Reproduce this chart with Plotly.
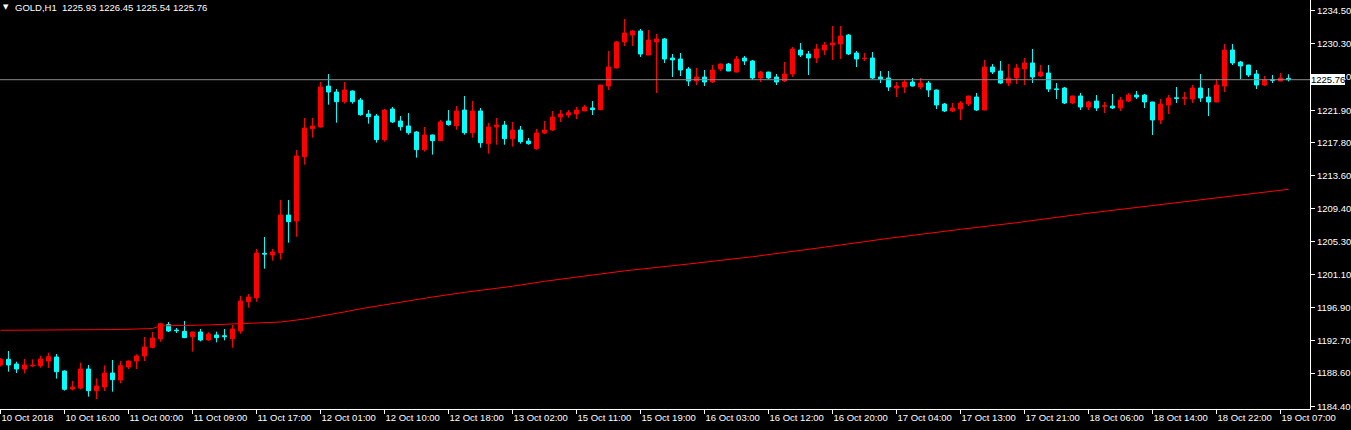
import plotly.graph_objects as go

# ---- data ----
opens = [1189.63, 1190.35, 1189.75, 1189.12, 1189.50, 1189.54, 1190.13, 1190.64, 1188.87, 1186.59,
         1186.71, 1189.12, 1186.38, 1186.84, 1188.61, 1187.73, 1189.37, 1190.13, 1190.77, 1191.87,
         1192.92, 1194.74, 1194.05, 1193.89, 1193.22, 1193.81, 1192.79, 1193.43, 1193.34, 1192.96,
         1193.93, 1197.65, 1198.15, 1203.77, 1203.56, 1203.86, 1208.62, 1207.86, 1216.01, 1219.56,
         1219.77, 1224.96, 1224.20, 1222.98, 1224.33, 1223.19, 1221.42, 1221.16, 1218.17, 1222.05,
         1220.53, 1219.90, 1219.14, 1216.90, 1218.76, 1218.04, 1220.53, 1219.94, 1221.92, 1219.05,
         1221.80, 1217.66, 1219.77, 1220.02, 1218.29, 1219.39, 1217.99, 1217.03, 1219.01, 1219.39,
         1221.04, 1221.29, 1221.42, 1221.80, 1222.18, 1221.97, 1224.96, 1227.24, 1230.54, 1231.42,
         1231.93, 1228.89, 1230.54, 1230.92, 1228.51, 1228.38, 1227.12, 1225.60, 1226.10, 1225.47,
         1227.12, 1227.75, 1226.73, 1228.51, 1228.13, 1225.98, 1226.73, 1226.10, 1225.60, 1226.48,
         1229.52, 1229.02, 1228.51, 1229.52, 1230.16, 1230.28, 1231.42, 1229.14, 1228.43, 1228.51,
         1226.10, 1225.98, 1224.71, 1224.84, 1225.47, 1224.84, 1225.34, 1224.46, 1222.68, 1221.80,
         1222.05, 1222.68, 1223.57, 1221.92, 1227.37, 1226.86, 1225.34, 1225.98, 1227.12, 1227.88,
         1226.23, 1226.61, 1224.60, 1224.71, 1222.81, 1223.70, 1222.30, 1223.06, 1222.40, 1222.43,
         1222.18, 1223.06, 1223.82, 1223.82, 1222.94, 1220.66, 1222.56, 1223.47, 1223.40, 1223.32,
         1224.71, 1223.57, 1222.94, 1224.96, 1229.52, 1228.00, 1227.62, 1226.48, 1225.09, 1225.75,
         1225.60, 1225.93]
highs = [1190.50, 1191.40, 1190.05, 1190.39, 1190.35, 1190.81, 1191.19, 1191.02, 1188.95, 1187.60,
         1189.92, 1189.63, 1187.94, 1189.58, 1190.26, 1190.13, 1190.20, 1190.98, 1193.17, 1193.81,
         1194.95, 1195.07, 1194.31, 1195.20, 1193.85, 1194.19, 1193.77, 1193.85, 1194.19, 1194.69,
         1198.37, 1198.62, 1204.32, 1205.84, 1204.32, 1210.52, 1210.52, 1216.86, 1220.91, 1220.91,
         1225.47, 1226.48, 1224.58, 1225.47, 1224.40, 1223.44, 1221.92, 1221.42, 1222.05, 1222.30,
         1221.16, 1221.54, 1219.26, 1219.77, 1218.80, 1220.66, 1221.92, 1222.43, 1223.70, 1223.06,
         1222.18, 1220.28, 1220.91, 1220.53, 1220.41, 1219.90, 1218.38, 1219.52, 1220.53, 1221.80,
         1221.92, 1221.92, 1222.30, 1222.56, 1223.06, 1225.10, 1229.40, 1230.66, 1233.45, 1232.06,
         1232.18, 1232.06, 1231.55, 1231.04, 1229.02, 1229.14, 1227.37, 1227.24, 1226.99, 1227.62,
         1227.80, 1227.88, 1228.76, 1228.76, 1228.26, 1226.86, 1226.75, 1226.48, 1228.00, 1229.90,
         1230.41, 1229.40, 1230.28, 1230.54, 1232.56, 1232.56, 1231.55, 1229.40, 1229.14, 1229.27,
         1226.86, 1226.86, 1225.47, 1225.72, 1225.98, 1225.98, 1225.60, 1224.50, 1222.81, 1222.81,
         1223.06, 1223.72, 1224.08, 1228.26, 1227.75, 1228.13, 1227.75, 1227.75, 1228.51, 1229.65,
         1227.62, 1227.62, 1225.34, 1224.84, 1223.72, 1224.08, 1223.06, 1223.82, 1222.94, 1223.95,
         1223.57, 1224.08, 1224.33, 1223.95, 1222.95, 1223.32, 1223.82, 1224.84, 1224.20, 1225.09,
         1226.48, 1224.71, 1225.85, 1230.28, 1230.28, 1228.13, 1227.65, 1226.99, 1226.23, 1226.36,
         1226.61, 1226.45]
lows = [1189.45, 1188.78, 1188.61, 1188.57, 1189.40, 1189.29, 1189.25, 1187.90, 1186.38, 1186.42,
        1186.55, 1185.62, 1185.32, 1186.33, 1186.25, 1187.31, 1189.12, 1189.12, 1190.13, 1191.74,
        1192.58, 1193.81, 1193.68, 1193.05, 1191.32, 1192.62, 1192.71, 1192.50, 1192.75, 1191.82,
        1193.60, 1196.89, 1197.65, 1201.83, 1202.84, 1202.97, 1205.12, 1205.88, 1215.00, 1218.42,
        1219.70, 1222.60, 1220.32, 1222.73, 1222.73, 1221.21, 1220.19, 1217.79, 1217.91, 1220.28,
        1219.31, 1218.80, 1215.89, 1216.65, 1216.27, 1218.00, 1219.94, 1219.43, 1218.80, 1218.42,
        1217.15, 1216.39, 1217.53, 1217.53, 1217.28, 1217.66, 1217.53, 1216.90, 1218.88, 1219.26,
        1220.41, 1220.95, 1220.78, 1221.78, 1221.29, 1221.90, 1224.46, 1227.20, 1230.03, 1230.03,
        1228.64, 1228.85, 1224.08, 1227.88, 1226.10, 1226.23, 1224.96, 1225.09, 1224.96, 1225.34,
        1226.86, 1226.85, 1226.70, 1227.62, 1225.72, 1225.47, 1225.85, 1225.09, 1225.47, 1226.10,
        1228.64, 1226.36, 1227.88, 1228.89, 1228.26, 1228.38, 1228.89, 1227.37, 1228.13, 1225.85,
        1225.34, 1224.33, 1223.57, 1224.08, 1224.90, 1224.58, 1223.57, 1222.05, 1221.67, 1221.67,
        1220.66, 1222.43, 1221.80, 1221.90, 1226.48, 1225.22, 1224.96, 1225.22, 1225.09, 1225.34,
        1226.10, 1224.20, 1223.32, 1222.68, 1222.68, 1221.92, 1221.92, 1221.80, 1221.54, 1222.05,
        1221.80, 1222.94, 1223.32, 1222.18, 1218.76, 1220.15, 1221.42, 1222.81, 1222.56, 1222.81,
        1222.94, 1221.16, 1222.90, 1224.20, 1227.62, 1225.85, 1226.10, 1224.58, 1224.96, 1225.34,
        1225.60, 1225.54]
closes = [1190.35, 1189.63, 1189.12, 1189.63, 1189.58, 1190.39, 1190.68, 1188.78, 1186.55, 1186.84,
          1189.12, 1186.38, 1186.97, 1188.61, 1187.77, 1189.54, 1190.13, 1190.77, 1191.91, 1193.05,
          1194.86, 1193.93, 1193.98, 1193.09, 1193.81, 1192.79, 1193.55, 1193.09, 1193.22, 1194.19,
          1197.73, 1198.24, 1203.81, 1203.68, 1203.94, 1208.62, 1207.78, 1216.10, 1219.64, 1219.90,
          1224.84, 1224.20, 1222.98, 1224.46, 1222.98, 1221.33, 1221.08, 1218.17, 1221.92, 1220.41,
          1219.81, 1219.05, 1216.90, 1218.76, 1218.04, 1220.41, 1220.07, 1221.80, 1219.05, 1221.80,
          1217.79, 1219.77, 1220.02, 1218.29, 1219.39, 1217.91, 1217.66, 1219.01, 1219.39, 1221.04,
          1221.42, 1221.59, 1221.92, 1222.30, 1221.97, 1225.09, 1227.37, 1230.54, 1231.68, 1231.93,
          1229.02, 1230.79, 1230.92, 1228.38, 1228.26, 1226.99, 1225.60, 1226.10, 1225.47, 1226.99,
          1227.75, 1226.86, 1228.38, 1228.13, 1225.98, 1226.73, 1225.98, 1225.47, 1226.48, 1229.65,
          1228.89, 1228.51, 1229.65, 1230.16, 1230.41, 1231.30, 1229.02, 1228.38, 1228.47, 1225.98,
          1225.85, 1224.84, 1224.96, 1225.47, 1224.96, 1225.34, 1224.46, 1222.56, 1221.80, 1222.18,
          1222.81, 1223.70, 1221.92, 1227.37, 1226.74, 1225.34, 1225.98, 1227.24, 1227.88, 1226.10,
          1226.74, 1224.58, 1224.52, 1222.81, 1223.70, 1222.30, 1222.94, 1222.18, 1222.45, 1222.18,
          1223.19, 1223.82, 1223.57, 1222.94, 1220.66, 1222.68, 1223.44, 1223.40, 1223.47, 1224.71,
          1223.44, 1222.94, 1225.09, 1229.52, 1227.88, 1227.50, 1226.36, 1225.09, 1225.72, 1225.70,
          1225.98, 1225.76]
bar_index = list(range(len(opens)))

# moving average (read at selected bars)
ma_bars = [0, 9, 15, 19, 20, 26, 30, 35, 38, 40, 43, 45, 50, 54, 58, 64, 68, 73, 78,
           86, 94, 103, 111, 120, 127, 135, 144, 152, 161]
ma_vals = [1194.02, 1194.04, 1194.12, 1194.25, 1194.58, 1194.70, 1194.88, 1195.07, 1195.45,
           1195.79, 1196.35, 1196.75, 1197.60, 1198.24, 1198.83, 1199.60, 1200.23, 1200.86,
           1201.55, 1202.42, 1203.34, 1204.55, 1205.67, 1206.81, 1207.65, 1208.73, 1209.80,
           1210.74, 1211.88]

x_tick_bars = [0, 8, 16, 24, 32, 40, 48, 56, 64, 72, 80, 88, 96, 104, 112, 120, 128, 136, 144, 152, 160]
x_tick_labels = ["10 Oct 2018", "10 Oct 16:00", "11 Oct 00:00", "11 Oct 09:00", "11 Oct 17:00",
                 "12 Oct 01:00", "12 Oct 10:00", "12 Oct 18:00", "13 Oct 02:00", "15 Oct 11:00",
                 "15 Oct 19:00", "16 Oct 03:00", "16 Oct 12:00", "16 Oct 20:00", "17 Oct 04:00",
                 "17 Oct 13:00", "17 Oct 21:00", "18 Oct 06:00", "18 Oct 14:00", "18 Oct 22:00",
                 "19 Oct 07:00"]
y_tick_vals = [1234.50, 1230.30, 1226.10, 1221.90, 1217.80, 1213.60, 1209.40, 1205.30,
               1201.10, 1196.90, 1192.70, 1188.60, 1184.40]
y_tick_labels = ["%.2f" % v for v in y_tick_vals]

symbol = "GOLD,H1"
last_bar = [1225.93, 1226.45, 1225.54, 1225.76]
bid = 1225.76

# ---- figure ----
UP = "#FF0000"
DOWN = "#00FFFF"
FONT = "Liberation Sans"

fig = go.Figure()
fig.add_trace(go.Candlestick(
    x=bar_index, open=opens, high=highs, low=lows, close=closes,
    increasing=dict(line=dict(color=UP, width=1), fillcolor=UP),
    decreasing=dict(line=dict(color=DOWN, width=1), fillcolor=DOWN),
    whiskerwidth=0, showlegend=False, hoverinfo="skip",
))
fig.add_trace(go.Scatter(
    x=ma_bars, y=ma_vals, mode="lines",
    line=dict(color="#FF0000", width=1), showlegend=False, hoverinfo="skip",
))

fig.add_shape(type="line", xref="paper", x0=0, x1=1, yref="y", y0=bid, y1=bid,
              line=dict(color="#8C8C8C", width=1))

fig.add_annotation(xref="paper", x=1, yref="y", y=bid, xanchor="left", yanchor="middle",
                   text="%.2f" % bid, showarrow=False, bgcolor="white",
                   font=dict(family=FONT, size=9.5, color="black"),
                   borderpad=0, borderwidth=0, xshift=1)
fig.add_annotation(xref="paper", x=0, yref="paper", y=1, xanchor="left", yanchor="top",
                   text=symbol + "\u00a0\u00a0" + " ".join("%.2f" % v for v in last_bar),
                   showarrow=False, font=dict(family=FONT, size=9.5, color="white"),
                   xshift=13, yshift=0)
fig.add_annotation(xref="paper", x=0, yref="paper", y=1, xanchor="left", yanchor="top",
                   text="\u25BC", showarrow=False, font=dict(family="DejaVu Sans", size=7, color="white"),
                   xshift=1, yshift=-1)

r0 = -0.0625
fig.update_layout(
    width=1351, height=430,
    margin=dict(l=0, r=41, t=0, b=21, pad=0),
    paper_bgcolor="black", plot_bgcolor="black",
    boxgap=0.5, boxgroupgap=0,
    font=dict(family=FONT, size=9.5, color="white"),
    xaxis=dict(range=[r0, r0 + 1310 / 8], rangeslider=dict(visible=False),
               tickmode="array", tickvals=x_tick_bars, ticktext=x_tick_labels,
               ticks="outside", ticklen=4, tickcolor="white", tickwidth=1,
               ticklabelposition="outside right",
               showline=True, linecolor="white", linewidth=1,
               showgrid=False, zeroline=False,
               tickfont=dict(family=FONT, size=9.5, color="white")),
    yaxis=dict(side="right", range=[1184.055, 1235.855],
               tickmode="array", tickvals=y_tick_vals, ticktext=y_tick_labels,
               ticks="outside", ticklen=4, tickcolor="white", tickwidth=1,
               showline=True, linecolor="white", linewidth=1,
               showgrid=False, zeroline=False,
               tickfont=dict(family=FONT, size=9.5, color="white")),
)

fig.write_html("out.html", config={"displayModeBar": False},
               post_script="document.body.style.margin='0';document.body.style.background='black';")
